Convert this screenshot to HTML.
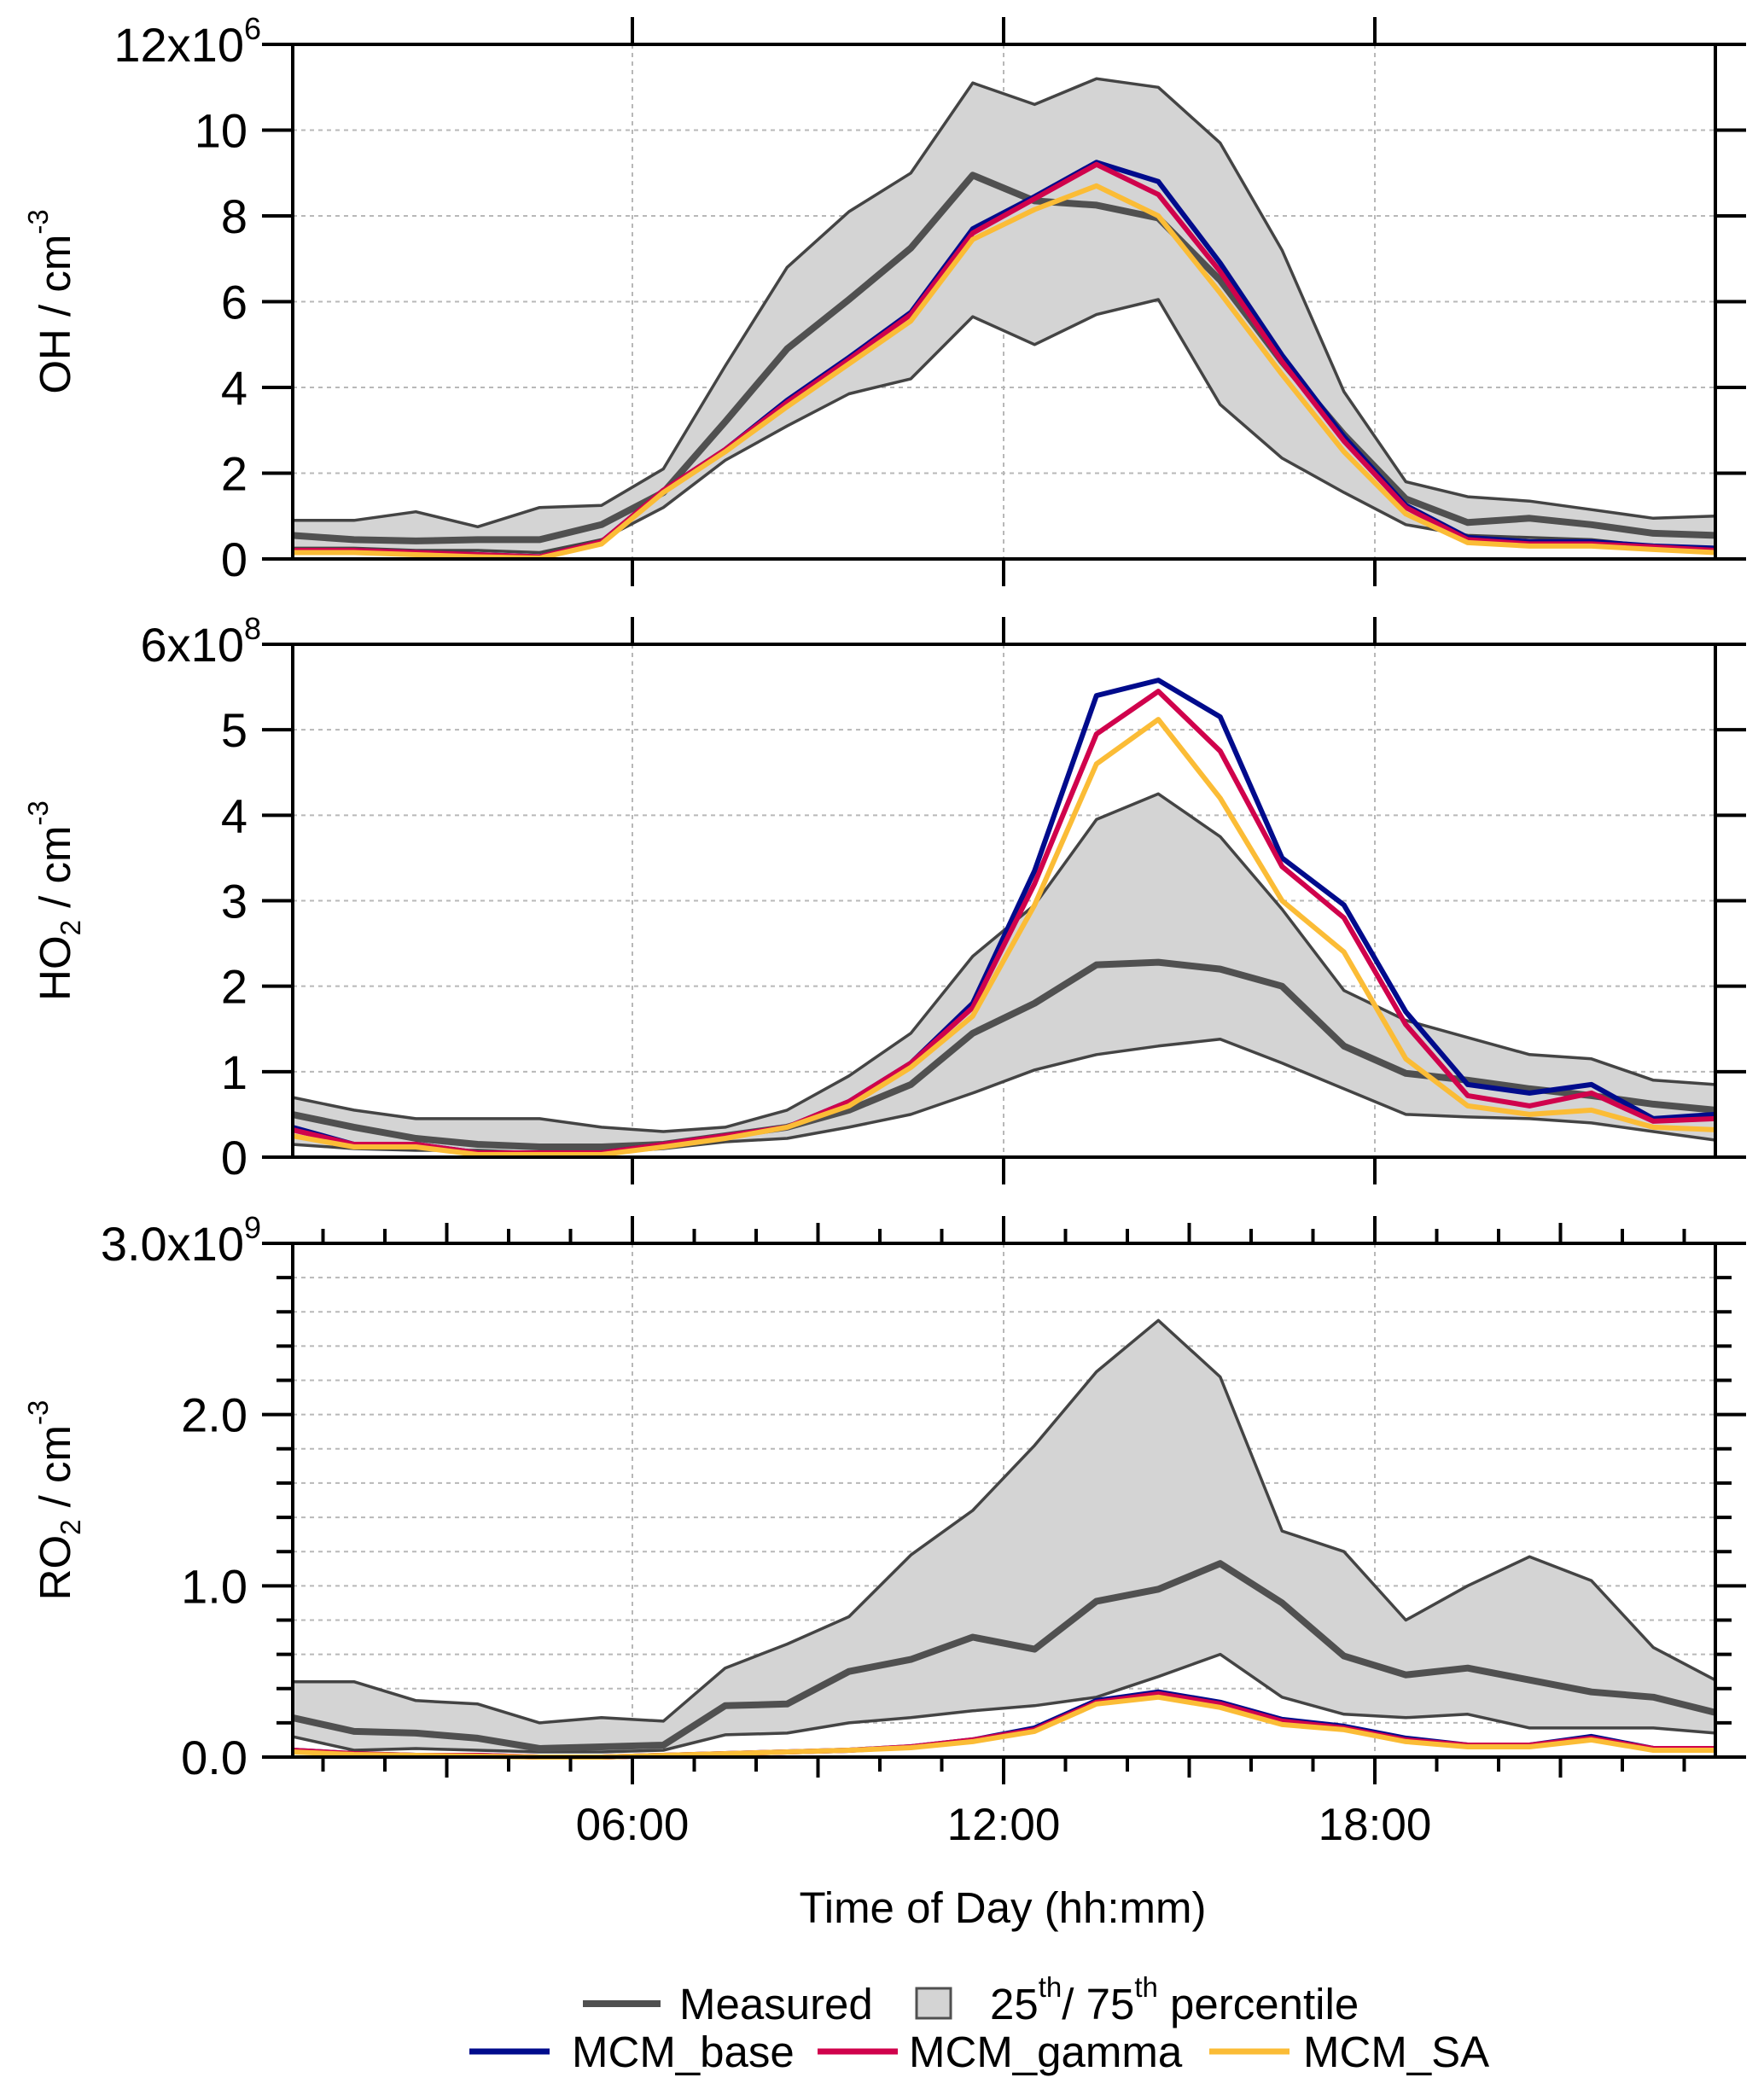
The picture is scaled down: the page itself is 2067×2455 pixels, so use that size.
<!DOCTYPE html>
<html><head><meta charset="utf-8"><style>
html,body{margin:0;padding:0;background:#fff;}
svg{display:block;font-family:"Liberation Sans",Arial,sans-serif;}
</style></head><body>
<svg id="chart" width="2067" height="2455" viewBox="0 0 2067 2455" xmlns="http://www.w3.org/2000/svg">
<g id="grid"></g>
<g id="marks"></g>
<g id="axes"></g>
<g id="labels" font-size="56" fill="#000"></g>
<text x="1175" y="2253" font-size="51" text-anchor="middle">Time of Day (hh:mm)</text>
<g font-size="51">
  <line x1="683" y1="2348" x2="774" y2="2348" stroke="#505050" stroke-width="8"/>
  <text x="796" y="2366">Measured</text>
  <rect x="1074" y="2330" width="40" height="35" fill="#d4d4d4" stroke="#505050" stroke-width="3"/>
  <text x="1160" y="2366">25<tspan font-size="33" dy="-26">th</tspan><tspan dy="26">/ 75</tspan><tspan font-size="33" dy="-26">th</tspan><tspan dy="26"> percentile</tspan></text>
  <line x1="550" y1="2404" x2="644" y2="2404" stroke="#000b8c" stroke-width="7"/>
  <text x="670" y="2422">MCM_base</text>
  <line x1="958" y1="2404" x2="1052" y2="2404" stroke="#d0024c" stroke-width="7"/>
  <text x="1065" y="2422">MCM_gamma</text>
  <line x1="1417" y1="2404" x2="1511" y2="2404" stroke="#fbbc36" stroke-width="7"/>
  <text x="1527" y="2422">MCM_SA</text>
</g>
</svg>
<script>
const hours = [0.5,1.5,2.5,3.5,4.5,5.5,6.5,7.5,8.5,9.5,10.5,11.5,12.5,13.5,14.5,15.5,16.5,17.5,18.5,19.5,20.5,21.5,22.5,23.5];
// OH (x1e6)
const ohMeasured = [0.55,0.45,0.42,0.45,0.45,0.8,1.55,3.2,4.9,6.05,7.25,8.95,8.35,8.25,7.95,6.5,4.6,2.9,1.4,0.85,0.95,0.8,0.6,0.55];
const ohP75 = [0.9,0.9,1.1,0.75,1.2,1.25,2.1,4.5,6.8,8.1,9.0,11.1,10.6,11.2,11.0,9.7,7.2,3.9,1.8,1.45,1.35,1.15,0.95,1.0];
const ohP25 = [0.25,0.25,0.2,0.2,0.15,0.45,1.2,2.3,3.1,3.85,4.2,5.65,5.0,5.7,6.05,3.6,2.35,1.55,0.8,0.55,0.5,0.45,0.3,0.25];
const ohBase = [0.2,0.2,0.15,0.1,0.05,0.4,1.6,2.55,3.7,4.7,5.75,7.7,8.45,9.25,8.8,6.9,4.75,2.85,1.25,0.5,0.4,0.4,0.3,0.25];
const ohGamma = [0.2,0.2,0.15,0.1,0.05,0.4,1.6,2.55,3.65,4.65,5.7,7.6,8.4,9.2,8.5,6.7,4.6,2.75,1.2,0.45,0.35,0.35,0.28,0.2];
const ohSA = [0.15,0.15,0.1,0.05,0.02,0.35,1.55,2.5,3.55,4.55,5.55,7.45,8.15,8.7,8.0,6.2,4.3,2.5,1.05,0.38,0.3,0.3,0.22,0.15];
// HO2 (x1e8)
const ho2Measured = [0.5,0.35,0.22,0.15,0.12,0.12,0.15,0.25,0.35,0.55,0.85,1.45,1.8,2.25,2.28,2.2,2.0,1.3,0.98,0.9,0.8,0.72,0.62,0.55];
const ho2P75 = [0.7,0.55,0.45,0.45,0.45,0.35,0.3,0.35,0.55,0.95,1.45,2.35,2.95,3.95,4.25,3.75,2.9,1.95,1.6,1.4,1.2,1.15,0.9,0.85];
const ho2P25 = [0.15,0.1,0.08,0.08,0.05,0.05,0.1,0.18,0.22,0.35,0.5,0.75,1.02,1.2,1.3,1.38,1.1,0.8,0.5,0.47,0.45,0.4,0.3,0.2];
const ho2Base = [0.35,0.15,0.15,0.05,0.05,0.05,0.15,0.25,0.35,0.65,1.1,1.8,3.35,5.4,5.58,5.15,3.5,2.95,1.7,0.85,0.75,0.85,0.45,0.5];
const ho2Gamma = [0.32,0.15,0.15,0.05,0.05,0.05,0.15,0.25,0.35,0.65,1.1,1.75,3.2,4.95,5.45,4.75,3.4,2.8,1.55,0.72,0.6,0.75,0.42,0.45];
const ho2SA = [0.25,0.12,0.12,0.03,0.03,0.03,0.12,0.22,0.35,0.6,1.05,1.65,2.95,4.6,5.12,4.2,3.0,2.4,1.15,0.6,0.5,0.55,0.35,0.32];
// RO2 (x1e9)
const ro2Measured = [0.23,0.15,0.14,0.11,0.05,0.06,0.07,0.3,0.31,0.5,0.57,0.7,0.63,0.91,0.98,1.13,0.9,0.59,0.48,0.52,0.45,0.38,0.35,0.26];
const ro2P75 = [0.44,0.44,0.33,0.31,0.2,0.23,0.21,0.52,0.66,0.82,1.18,1.44,1.82,2.25,2.55,2.22,1.32,1.2,0.8,1.0,1.17,1.03,0.64,0.45];
const ro2P25 = [0.12,0.04,0.05,0.04,0.03,0.03,0.04,0.13,0.14,0.2,0.23,0.27,0.3,0.35,0.47,0.6,0.35,0.25,0.23,0.25,0.17,0.17,0.17,0.14];
const ro2Base = [0.04,0.02,0.01,0.01,0.0,0.0,0.01,0.02,0.03,0.04,0.06,0.1,0.17,0.33,0.38,0.32,0.22,0.18,0.11,0.07,0.07,0.12,0.05,0.05];
const ro2Gamma = [0.04,0.02,0.01,0.01,0.0,0.0,0.01,0.02,0.03,0.04,0.06,0.1,0.16,0.32,0.37,0.31,0.21,0.17,0.1,0.07,0.07,0.11,0.05,0.05];
const ro2SA = [0.03,0.015,0.01,0.005,0.0,0.0,0.01,0.02,0.03,0.04,0.055,0.09,0.15,0.31,0.35,0.29,0.19,0.16,0.09,0.06,0.06,0.1,0.04,0.04];
const ohTicks = [0,2,4,6,8,10,12];
const ohTickLabels = ["0","2","4","6","8","10","12x10"];
const ho2Ticks = [0,1,2,3,4,5,6];
const ho2TickLabels = ["0","1","2","3","4","5","6x10"];
const ro2Ticks = [0,1,2,3];
const ro2TickLabels = ["0.0","1.0","2.0","3.0x10"];
const xTicks = [6,12,18];
const xTickLabels = ["06:00","12:00","18:00"];

const NS="http://www.w3.org/2000/svg";
const L=343,R=2010;
function X(h){return 306+72.5*h;}
function mk(parent,tag,attrs){const e=document.createElementNS(NS,tag);for(const k in attrs)e.setAttribute(k,attrs[k]);document.getElementById(parent).appendChild(e);return e;}
function pts(vals,Y){return vals.map((v,i)=>X(hours[i]).toFixed(1)+","+Y(v).toFixed(1)).join(" ");}

const panels=[
 {name:"oh",top:52,bot:655,max:12,ticks:ohTicks,labels:ohTickLabels,exp:"6",minor:0,m:ohMeasured,p75:ohP75,p25:ohP25,b:ohBase,g:ohGamma,s:ohSA,title:"OH"},
 {name:"ho2",top:755,bot:1356,max:6,ticks:ho2Ticks,labels:ho2TickLabels,exp:"8",minor:0,m:ho2Measured,p75:ho2P75,p25:ho2P25,b:ho2Base,g:ho2Gamma,s:ho2SA,title:"HO2"},
 {name:"ro2",top:1457,bot:2059,max:3,ticks:ro2Ticks,labels:ro2TickLabels,exp:"9",minor:0.2,m:ro2Measured,p75:ro2P75,p25:ro2P25,b:ro2Base,g:ro2Gamma,s:ro2SA,title:"RO2"}
];
panels.forEach((p,pi)=>{
  const Y=v=>p.bot-(v/p.max)*(p.bot-p.top);
  const gvals=[];
  if(p.minor){for(let k=1;k*p.minor<p.max-1e-9;k++)gvals.push(k*p.minor);} else p.ticks.forEach(t=>{if(t>0&&t<p.max)gvals.push(t);});
  gvals.forEach(v=>{const e=mk("grid","line",{x1:L,x2:R,y1:Y(v),y2:Y(v),stroke:"#b8b8b8","stroke-width":2,"stroke-dasharray":"5,5"});
    
    });
  xTicks.forEach(t=>{const e=mk("grid","line",{x1:X(t),x2:X(t),y1:p.top,y2:p.bot,stroke:"#b8b8b8","stroke-width":2,"stroke-dasharray":"5,5"});
    
    });
  const band=mk("marks","polygon",{points:pts(p.p75,Y)+" "+pts(p.p25,Y).split(" ").reverse().join(" "),fill:"#d4d4d4",stroke:"none"});
  
  
  [["p75","75th"],["p25","25th"]].forEach(([k,n])=>{const e=mk("marks","polyline",{points:pts(p[k],Y),fill:"none",stroke:"#444","stroke-width":3.5,"stroke-linejoin":"round"});
    
    });
  const ms=mk("marks","polyline",{points:pts(p.m,Y),fill:"none",stroke:"#505050","stroke-width":8,"stroke-linejoin":"round"});
  
  
  [["b","#000b8c","mcm-base"],["g","#d0024c","mcm-gamma"],["s","#fbbc36","mcm-sa"]].forEach(([k,c,n])=>{
    const e=mk("marks","polyline",{points:pts(p[k],Y),fill:"none",stroke:c,"stroke-width":6,"stroke-linejoin":"round"});
    
    });
  const fr=mk("axes","rect",{x:L,y:p.top,width:R-L,height:p.bot-p.top,fill:"none",stroke:"#000","stroke-width":4});
  
  
  p.ticks.forEach((t,i)=>{
    const y=Y(t);
    const a=mk("axes","line",{x1:L-36,x2:L,y1:y,y2:y,stroke:"#000","stroke-width":4});
    
    
    const b=mk("axes","line",{x1:R,x2:R+36,y1:y,y2:y,stroke:"#000","stroke-width":4});
    
    
    const tx=mk("labels","text",{x:290,y:y+20,"text-anchor":"end"});
    
    
    if(i===p.ticks.length-1){tx.textContent=p.labels[i];const s=document.createElementNS(NS,"tspan");s.setAttribute("font-size","36");s.setAttribute("dy","-26");s.textContent=p.exp;tx.appendChild(s);tx.setAttribute("x",306);}
    else tx.textContent=p.labels[i];
  });
  if(p.minor){for(let k=1;k*p.minor<p.max-1e-9;k++){const v=k*p.minor;if(Math.abs(v-Math.round(v))<1e-6)continue;
    const a=mk("axes","line",{x1:L-19,x2:L,y1:Y(v),y2:Y(v),stroke:"#000","stroke-width":4});
    
    
    const b=mk("axes","line",{x1:R,x2:R+19,y1:Y(v),y2:Y(v),stroke:"#000","stroke-width":4});
    
    }}
  xTicks.forEach(t=>{
    const up=mk("axes","line",{x1:X(t),x2:X(t),y1:p.top-32,y2:p.top,stroke:"#000","stroke-width":4});
    
    
    const dn=mk("axes","line",{x1:X(t),x2:X(t),y1:p.bot,y2:p.bot+32,stroke:"#000","stroke-width":4});
    
    
  });
  if(pi===2){for(let h=1;h<=23;h++){if(h%6===0)continue;const len=h%3===0?24:17;
    const up=mk("axes","line",{x1:X(h),x2:X(h),y1:p.top-len,y2:p.top,stroke:"#000","stroke-width":4});
    
    
    const dn=mk("axes","line",{x1:X(h),x2:X(h),y1:p.bot,y2:p.bot+len,stroke:"#000","stroke-width":4});
    
    }}
  const cy=(p.top+p.bot)/2;
  const tt=mk("labels","text",{x:0,y:0,"text-anchor":"middle","font-size":"51",transform:"translate(82,"+cy+") rotate(-90)"});
  
  
  if(p.title==="OH"){tt.innerHTML='OH / cm<tspan font-size="33" dy="-26">-3</tspan>';}
  else{tt.innerHTML=p.title.slice(0,2)+'<tspan font-size="33" dy="12">2</tspan><tspan dy="-12"> / cm</tspan><tspan font-size="33" dy="-26">-3</tspan>';}
});
xTicks.forEach((t,i)=>{const e=mk("labels","text",{x:X(t),y:2156,"text-anchor":"middle","font-size":"53"});
  
  
  e.textContent=xTickLabels[i];});
</script>
</body></html>
